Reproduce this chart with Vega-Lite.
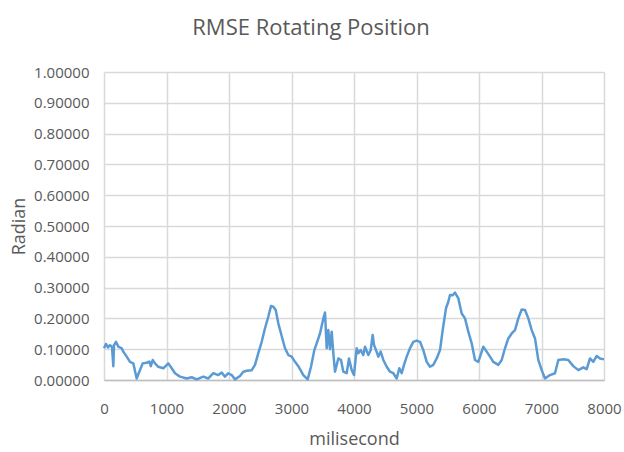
{
  "$schema": "https://vega.github.io/schema/vega-lite/v6.json",
  "autosize": "none",
  "width": 500,
  "height": 308,
  "padding": {"left": 104, "top": 72, "right": 20, "bottom": 72},
  "background": "white",
  "config": {"view": {"stroke": null}, "font": "Open Sans"},
  "title": {"text": "RMSE Rotating Position", "fontSize": 22, "fontWeight": "normal", "color": "#595959", "font": "Open Sans", "dx": -43, "offset": 25},
  "data": {"values": [
    {"ms":0,"rad":0.103},{"ms":32,"rad":0.117},{"ms":64,"rad":0.106},{"ms":96,"rad":0.113},{"ms":128,"rad":0.108},{"ms":149,"rad":0.045},{"ms":160,"rad":0.113},{"ms":192,"rad":0.124},{"ms":229,"rad":0.108},{"ms":283,"rad":0.103},{"ms":309,"rad":0.092},{"ms":363,"rad":0.076},{"ms":416,"rad":0.059},{"ms":469,"rad":0.054},{"ms":523,"rad":0.005},{"ms":565,"rad":0.027},{"ms":619,"rad":0.054},{"ms":683,"rad":0.056},{"ms":725,"rad":0.060},{"ms":750,"rad":0.045},{"ms":779,"rad":0.065},{"ms":816,"rad":0.054},{"ms":869,"rad":0.043},{"ms":949,"rad":0.038},{"ms":1029,"rad":0.054},{"ms":1067,"rad":0.043},{"ms":1136,"rad":0.022},{"ms":1216,"rad":0.011},{"ms":1323,"rad":0.005},{"ms":1403,"rad":0.009},{"ms":1483,"rad":0.002},{"ms":1589,"rad":0.011},{"ms":1669,"rad":0.005},{"ms":1749,"rad":0.022},{"ms":1829,"rad":0.016},{"ms":1883,"rad":0.024},{"ms":1936,"rad":0.011},{"ms":1989,"rad":0.022},{"ms":2043,"rad":0.016},{"ms":2096,"rad":0.002},{"ms":2176,"rad":0.013},{"ms":2229,"rad":0.027},{"ms":2283,"rad":0.030},{"ms":2363,"rad":0.032},{"ms":2416,"rad":0.049},{"ms":2469,"rad":0.087},{"ms":2523,"rad":0.124},{"ms":2576,"rad":0.168},{"ms":2629,"rad":0.206},{"ms":2672,"rad":0.240},{"ms":2709,"rad":0.238},{"ms":2747,"rad":0.227},{"ms":2789,"rad":0.184},{"ms":2832,"rad":0.151},{"ms":2896,"rad":0.103},{"ms":2949,"rad":0.081},{"ms":3003,"rad":0.076},{"ms":3056,"rad":0.059},{"ms":3109,"rad":0.045},{"ms":3189,"rad":0.016},{"ms":3259,"rad":0.002},{"ms":3312,"rad":0.043},{"ms":3365,"rad":0.097},{"ms":3403,"rad":0.119},{"ms":3456,"rad":0.151},{"ms":3509,"rad":0.200},{"ms":3536,"rad":0.219},{"ms":3563,"rad":0.103},{"ms":3589,"rad":0.162},{"ms":3616,"rad":0.100},{"ms":3643,"rad":0.157},{"ms":3669,"rad":0.087},{"ms":3696,"rad":0.027},{"ms":3749,"rad":0.070},{"ms":3792,"rad":0.065},{"ms":3829,"rad":0.027},{"ms":3883,"rad":0.022},{"ms":3920,"rad":0.070},{"ms":3963,"rad":0.032},{"ms":4000,"rad":0.016},{"ms":4043,"rad":0.103},{"ms":4069,"rad":0.087},{"ms":4107,"rad":0.097},{"ms":4149,"rad":0.081},{"ms":4176,"rad":0.108},{"ms":4229,"rad":0.081},{"ms":4267,"rad":0.097},{"ms":4299,"rad":0.146},{"ms":4320,"rad":0.114},{"ms":4352,"rad":0.097},{"ms":4389,"rad":0.076},{"ms":4427,"rad":0.092},{"ms":4469,"rad":0.065},{"ms":4523,"rad":0.043},{"ms":4576,"rad":0.027},{"ms":4629,"rad":0.022},{"ms":4683,"rad":0.005},{"ms":4725,"rad":0.038},{"ms":4763,"rad":0.022},{"ms":4800,"rad":0.049},{"ms":4843,"rad":0.076},{"ms":4896,"rad":0.103},{"ms":4949,"rad":0.124},{"ms":5003,"rad":0.128},{"ms":5056,"rad":0.124},{"ms":5109,"rad":0.097},{"ms":5163,"rad":0.059},{"ms":5216,"rad":0.043},{"ms":5269,"rad":0.049},{"ms":5323,"rad":0.070},{"ms":5376,"rad":0.097},{"ms":5419,"rad":0.162},{"ms":5472,"rad":0.233},{"ms":5509,"rad":0.254},{"ms":5536,"rad":0.276},{"ms":5580,"rad":0.275},{"ms":5616,"rad":0.284},{"ms":5669,"rad":0.265},{"ms":5723,"rad":0.216},{"ms":5776,"rad":0.200},{"ms":5829,"rad":0.157},{"ms":5883,"rad":0.119},{"ms":5936,"rad":0.065},{"ms":5989,"rad":0.059},{"ms":6069,"rad":0.108},{"ms":6123,"rad":0.092},{"ms":6176,"rad":0.076},{"ms":6229,"rad":0.059},{"ms":6309,"rad":0.049},{"ms":6363,"rad":0.065},{"ms":6416,"rad":0.103},{"ms":6469,"rad":0.135},{"ms":6523,"rad":0.151},{"ms":6576,"rad":0.162},{"ms":6629,"rad":0.200},{"ms":6683,"rad":0.229},{"ms":6736,"rad":0.227},{"ms":6789,"rad":0.200},{"ms":6843,"rad":0.162},{"ms":6896,"rad":0.135},{"ms":6949,"rad":0.065},{"ms":7003,"rad":0.032},{"ms":7056,"rad":0.005},{"ms":7136,"rad":0.016},{"ms":7216,"rad":0.022},{"ms":7269,"rad":0.065},{"ms":7349,"rad":0.067},{"ms":7429,"rad":0.065},{"ms":7509,"rad":0.045},{"ms":7589,"rad":0.032},{"ms":7669,"rad":0.041},{"ms":7723,"rad":0.035},{"ms":7776,"rad":0.070},{"ms":7829,"rad":0.059},{"ms":7883,"rad":0.078},{"ms":7936,"rad":0.070},{"ms":8000,"rad":0.067}
  ]},
  "mark": {"type": "line", "color": "#5b9bd5", "strokeWidth": 2.5, "strokeJoin": "round"},
  "encoding": {
    "x": {"field": "ms", "type": "quantitative", "scale": {"domain": [0, 8000], "nice": false},
      "axis": {"title": "milisecond", "values": [0,1000,2000,3000,4000,5000,6000,7000,8000], "format": "d", "grid": true, "gridColor": "#d9d9d9", "gridWidth": 1.5, "domainColor": "#bfbfbf", "domainWidth": 1.5, "ticks": false, "labelPadding": 21, "labelFontSize": 15, "labelColor": "#595959", "labelFont": "Open Sans", "titleFont": "Open Sans", "titleFontSize": 18, "titleFontWeight": "normal", "titleColor": "#595959", "titlePadding": 14, "labelFlush": false}},
    "y": {"field": "rad", "type": "quantitative", "scale": {"domain": [0, 1], "nice": false},
      "axis": {"title": "Radian", "values": [0,0.1,0.2,0.3,0.4,0.5,0.6,0.7,0.8,0.9,1.0], "format": ".5f", "grid": true, "gridColor": "#d9d9d9", "gridWidth": 1.5, "domain": false, "ticks": false, "labelPadding": 15, "labelFontSize": 15, "labelColor": "#595959", "labelFont": "Open Sans", "titleFont": "Open Sans", "titleFontSize": 18, "titleFontWeight": "normal", "titleColor": "#595959", "titlePadding": 5}}
  }
}
